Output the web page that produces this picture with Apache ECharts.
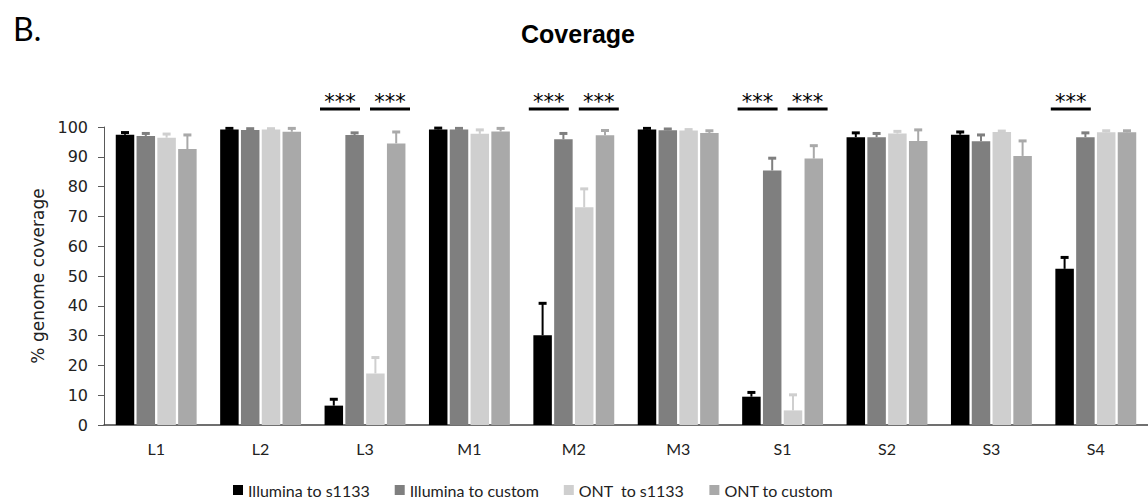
<!DOCTYPE html>
<html>
<head>
<meta charset="utf-8">
<script src="https://cdn.jsdelivr.net/npm/echarts@6/dist/echarts.min.js"></script>
<style>
  html, body { margin: 0; padding: 0; background: #fff; overflow: hidden; }
  #coverage_chart { width: 1148px; height: 503px; }
</style>
</head>
<body>
<div id="coverage_chart"></div>
<script>
// categories (samples)
const categories = ['L1', 'L2', 'L3', 'M1', 'M2', 'M3', 'S1', 'S2', 'S3', 'S4']
const seriesNames = ['Illumina to s1133', 'Illumina to custom', 'ONT  to s1133', 'ONT to custom']

// mean % genome coverage
const illuminaS1133 = [97.4, 99.2, 6.5, 99.2, 30.1, 99.2, 9.5, 96.6, 97.4, 52.4]
const illuminaCustom = [97.0, 99.0, 97.3, 99.2, 95.9, 98.9, 85.4, 96.6, 95.2, 96.6]
const ontS1133 = [96.4, 99.2, 17.3, 97.7, 73.1, 98.8, 4.9, 97.8, 98.3, 98.2]
const ontCustom = [92.6, 98.4, 94.5, 98.5, 97.2, 98.0, 89.4, 95.3, 90.3, 98.2]

// error (plus only)
const illuminaS1133Err = [0.9, 0.5, 2.3, 0.6, 10.9, 0.5, 1.6, 1.6, 1.1, 4.0]
const illuminaCustomErr = [1.0, 0.6, 0.9, 0.5, 2.1, 0.6, 4.3, 1.4, 2.3, 1.6]
const ontS1133Err = [1.4, 0.4, 5.5, 1.5, 6.3, 0.5, 5.4, 0.9, 0.5, 0.7]
const ontCustomErr = [4.9, 1.3, 4.0, 1.2, 1.8, 0.9, 4.5, 3.9, 5.2, 0.7]

// significance marks: [category index, pair (0 = illumina pair, 1 = ONT pair)]
const sigMarks = [[2, 0], [2, 1], [4, 0], [4, 1], [6, 0], [6, 1], [9, 0]]
const sigLabel = '***'

// y axis ticks
const yMin = 0
const yMax = 100
const yStep = 10

const colors = ['#000000', '#7f7f7f', '#cfcfcf', '#a9a9a9']
const means = [illuminaS1133, illuminaCustom, ontS1133, ontCustom]
const errs = [illuminaS1133Err, illuminaCustomErr, ontS1133Err, ontCustomErr]

const BAR_W = 18.5
const BAR_GAP = 2.3
const PITCH = BAR_W + BAR_GAP
const CAP = 8

let myChart = echarts.init(document.getElementById('coverage_chart'), null, { renderer: 'svg' })

// 误差线
function errorRender (k) {
  return function (params, api) {
    const cat = api.value(0)
    const base = api.coord([cat, api.value(1)])
    const top = api.coord([cat, api.value(2)])
    const x = base[0] + (k - 1.5) * PITCH
    return {
      type: 'group',
      children: [
        { type: 'line', shape: { x1: x, y1: base[1], x2: x, y2: top[1] }, style: { stroke: colors[k], lineWidth: 2 } },
        { type: 'rect', shape: { x: x - CAP / 2, y: top[1] - 1, width: CAP, height: 3 }, style: { fill: colors[k] } }
      ]
    }
  }
}

// 显著性标记
function sigRender (params, api) {
  const cat = api.value(0)
  const pair = api.value(1)
  const c = api.coord([cat, yMax])
  const x = c[0] + (pair === 0 ? -25 : 25)
  const y = c[1] - 18
  return {
    type: 'group',
    children: [
      { type: 'line', shape: { x1: x - 20, y1: y, x2: x + 20, y2: y }, style: { stroke: '#000', lineWidth: 3 } },
      {
        type: 'text',
        style: {
          text: sigLabel, x: x, y: y - 7, align: 'center', verticalAlign: 'middle',
          fontFamily: 'DejaVu Sans', fontSize: 21, fill: '#000'
        }
      }
    ]
  }
}

const series = []
means.forEach((arr, k) => {
  series.push({
    name: seriesNames[k],
    type: 'bar',
    data: arr,
    barWidth: BAR_W,
    barGap: (BAR_GAP / BAR_W * 100).toFixed(1) + '%',
    itemStyle: { color: colors[k] },
    emphasis: { disabled: true }
  })
})
means.forEach((arr, k) => {
  series.push({
    type: 'custom',
    renderItem: errorRender(k),
    data: arr.map((v, i) => [i, v, v + errs[k][i]]),
    encode: { x: 0, y: [1, 2] },
    z: 3,
    silent: true
  })
})
series.push({
  type: 'custom',
  renderItem: sigRender,
  data: sigMarks,
  encode: { x: 0 },
  clip: false,
  z: 4,
  silent: true
})

const option = {
  backgroundColor: '#FFFFFF',
  animation: false,
  graphic: [
    { type: 'text', left: 13, top: 12, style: { text: 'B.', fontFamily: 'Lato', fontSize: 32, fill: '#000' } },
    {
      type: 'text', x: 578, y: 34,
      style: { text: 'Coverage', align: 'center', verticalAlign: 'middle', fontFamily: 'Liberation Sans', fontWeight: 'bold', fontSize: 25, fill: '#000' }
    }
  ],
  legend: {
    data: seriesNames,
    left: 228,
    top: 477,
    icon: 'rect',
    itemWidth: 10,
    itemHeight: 10,
    itemGap: 25,
    textStyle: { fontFamily: 'Lato', fontSize: 16, color: '#222' },
    selectedMode: false
  },
  grid: {
    left: 104,
    right: -13,
    top: 127,
    bottom: 78
  },
  xAxis: {
    type: 'category',
    data: categories,
    axisTick: { show: false },
    axisLine: { lineStyle: { color: '#404040', width: 1.5 } },
    axisLabel: { margin: 15, fontFamily: 'Lato', fontSize: 16, color: '#222' }
  },
  yAxis: {
    type: 'value',
    min: yMin,
    max: yMax,
    interval: yStep,
    name: '% genome coverage',
    nameLocation: 'middle',
    nameGap: 55,
    nameTextStyle: { fontFamily: 'DejaVu Sans', fontSize: 17, color: '#222' },
    axisLine: { show: true, lineStyle: { color: '#595959', width: 1 } },
    axisTick: { show: true, length: 6, lineStyle: { color: '#595959' } },
    axisLabel: { margin: 16, fontFamily: 'DejaVu Sans', fontSize: 16, color: '#222' },
    splitLine: { show: false }
  },
  series: series
}
myChart.setOption(option)
</script>
</body>
</html>
